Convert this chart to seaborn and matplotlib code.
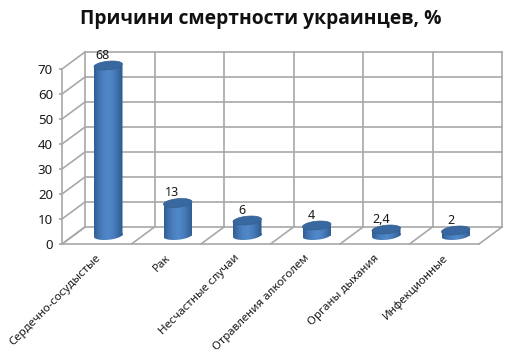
import numpy as np
import pandas as pd
import seaborn as sns
import matplotlib
matplotlib.use('Agg')
import matplotlib.pyplot as plt
from matplotlib.colors import LinearSegmentedColormap
from matplotlib.patches import PathPatch
from matplotlib.path import Path

causes = ['Сердечно-сосудыстые', 'Рак', 'Несчастные случаи', 'Отравления алкоголем',
          'Органы дыхания', 'Инфекционные']
values = [68, 13, 6, 4, 2.4, 2]
value_labels = ['68', '13', '6', '4', '2,4', '2']
y_ticks = [0, 10, 20, 30, 40, 50, 60, 70]

W, H = 508, 354
# plot box in pixels (front-left of the floor to back-right of the wall)
LEFT, RIGHT, TOP, BOTTOM = 62, 502, 52, 244
PX_X = 69.5   # pixels per category
PX_Y = 2.5    # pixels per unit of value
DX = 11.5 / PX_X  # half depth of the fake 3d box
DY = 8.5 / PX_Y
RY = 4.3 / PX_Y   # cylinder cap
GRID = '#a8a8a8'
TEXT = '#1a1a1a'

sns.set_theme(style='white')
plt.rcParams['font.family'] = ['Noto Sans', 'DejaVu Sans']

df = pd.DataFrame({'cause': causes, 'value': values})

fig = plt.figure(figsize=(W / 100, H / 100), dpi=100, facecolor='white')
ax = fig.add_axes([LEFT / W, 1 - BOTTOM / H, (RIGHT - LEFT) / W, (BOTTOM - TOP) / H])
sns.barplot(data=df, x='cause', y='value', width=28.5 / PX_X, color='#4a7ebb',
            ax=ax, zorder=3)


def wall_line(x, y, **kw):
    ax.plot(x, y, color=GRID, lw=1.2, clip_on=False, zorder=1, solid_capstyle='projecting', **kw)


def cap(cx, cy, rx):
    # slightly tilted ellipse, right side higher
    t = np.linspace(0, 2 * np.pi, 60)
    xs = rx * np.cos(t)
    ys = RY * np.sin(t) + 0.3 * RY * np.cos(t)
    return Path(np.column_stack([cx + xs, cy + ys]), closed=True)


# box: back wall, left wall, floor
left_back = -0.5 + DX
right_back = len(causes) - 0.5 + DX
left_front = -0.5 - DX
right_front = len(causes) - 0.5 - DX
for v in y_ticks:
    wall_line([left_back, right_back], [v + DY, v + DY])
    wall_line([left_front, left_back], [v - DY, v + DY])
for i in range(len(causes) + 1):
    wall_line([i - 0.5 + DX, i - 0.5 + DX], [DY, 70 + DY])
    wall_line([i - 0.5 - DX, i - 0.5 + DX], [-DY, DY])
wall_line([left_front, right_front], [-DY, -DY])
wall_line([left_front, left_front], [-DY, 70 - DY])

# cylinders on top of the seaborn bars
shade = LinearSegmentedColormap.from_list(
    'cyl', ['#2f5e94', '#4174ae', '#4c82c2', '#5088c9', '#4a7fbe', '#3d6ea8', '#2c5a8c'])
grad = np.linspace(0, 1, 64).reshape(1, -1)
for bar, val in zip(ax.patches, values):
    x0, w = bar.get_x(), bar.get_width()
    cx, rx = x0 + w / 2, w / 2
    body = Path.make_compound_path(
        Path([(x0, 0), (x0 + w, 0), (x0 + w, val), (x0, val), (x0, 0)], closed=True),
        cap(cx, 0, rx))
    im = ax.imshow(grad, extent=(x0, x0 + w, -2 * RY, val + RY), aspect='auto',
                   cmap=shade, zorder=3.2)
    im.set_clip_path(PathPatch(body, transform=ax.transData))
    ax.add_patch(PathPatch(cap(cx, val, rx), fc='#38689f', ec='#33608f', lw=0.5, zorder=3.4))
    bar.set_visible(False)

for bar, val, lab in zip(ax.patches, values, value_labels):
    ax.annotate(lab, (bar.get_x() + bar.get_width() / 2, val), xytext=(-3.8, 7.5),
                textcoords='offset points', ha='center', va='center', fontsize=9,
                color=TEXT, zorder=5)

ax.set_xlim(left_front, right_back)
ax.set_ylim(-DY, 70 + DY)
ax.set_xlabel('')
ax.set_ylabel('')
sns.despine(ax=ax, left=True, bottom=True, top=True, right=True)
ax.set_yticks([v - DY for v in y_ticks], labels=[str(v) for v in y_ticks])
ax.set_xticks([i - DX - 1.5 / PX_X for i in range(len(causes))], labels=causes)
ax.tick_params(axis='y', length=2.5, width=1.2, color=GRID, pad=4, labelsize=9.5, labelcolor=TEXT, left=True)
ax.tick_params(axis='x', length=0, pad=6, labelsize=8.3, labelcolor=TEXT)
plt.setp(ax.get_xticklabels(), rotation=45, ha='right', rotation_mode='anchor')

fig.text(261 / W, 1 - 19 / H, 'Причини смертности украинцев, %', ha='center', va='center',
         fontsize=13.9, fontweight='bold', color='#111111', family=['Open Sans', 'DejaVu Sans'])

fig.savefig('out.png', dpi=100, facecolor='white')
